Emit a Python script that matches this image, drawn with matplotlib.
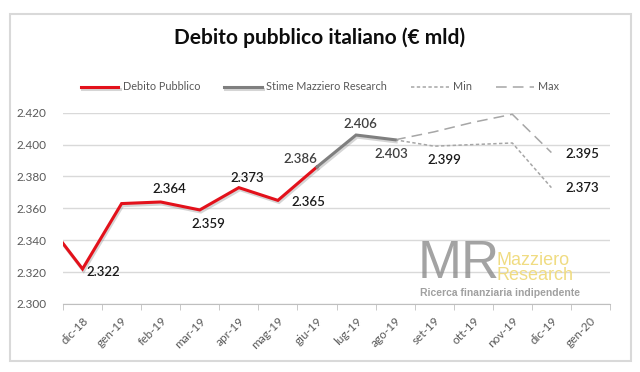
import matplotlib
matplotlib.use("Agg")
import matplotlib.pyplot as plt
import matplotlib.patheffects as pe
from matplotlib.patches import Rectangle

plt.rcParams['font.family'] = ['Lato', 'DejaVu Sans']

# categories (nov-18 is only partly visible at the left edge)
mesi = ['nov-18', 'dic-18', 'gen-19', 'feb-19', 'mar-19', 'apr-19', 'mag-19', 'giu-19',
        'lug-19', 'ago-19', 'set-19', 'ott-19', 'nov-19', 'dic-19', 'gen-20']
x = list(range(-1, len(mesi) - 1))

# Debito Pubblico (nov-18 .. giu-19)
debito = [2.354, 2.322, 2.363, 2.364, 2.359, 2.373, 2.365, 2.386]
# Stime Mazziero Research (giu-19 .. ago-19)
stime = [2.386, 2.406, 2.403]
# Min / Max (ago-19 .. dic-19)
minimo = [2.403, 2.399, 2.400, 2.401, 2.373]
massimo = [2.403, 2.408, 2.414, 2.419, 2.395]

yticks = [2.300, 2.320, 2.340, 2.360, 2.380, 2.400, 2.420]

red = '#e3111b'
dark_gray = '#7f7f7f'
light_gray = '#a6a6a6'
text_gray = '#595959'

fig = plt.figure(figsize=(6.4, 3.72), dpi=100)
ax = fig.add_axes([63 / 640, 1 - 304 / 372, (610 - 63) / 640, (304 - 112.7) / 372])

shadow = [pe.SimpleLineShadow(offset=(0.8, -1.5), shadow_color='#888888', alpha=0.35), pe.Normal()]

ax.plot(x[:len(debito)], debito, color=red, lw=2.2, solid_joinstyle='miter',
        path_effects=shadow, label='Debito Pubblico', zorder=4)
ax.plot(x[7:7 + len(stime)], stime, color=dark_gray, lw=2.2, solid_joinstyle='miter',
        path_effects=shadow, label='Stime Mazziero Research', zorder=4)
ax.plot(x[9:9 + len(minimo)], minimo, color=light_gray, lw=1.1, ls=(0, (2.2, 1.6)),
        label='Min', zorder=3)
ax.plot(x[9:9 + len(massimo)], massimo, color=light_gray, lw=1.1, ls=(0, (7, 4)),
        label='Max', zorder=3)

ax.set_xlim(-0.5, len(mesi) - 1.5)
ax.set_ylim(2.300, 2.420)
ax.set_yticks(yticks)
ax.set_yticklabels([f'{v:.3f}' for v in yticks])
ax.yaxis.grid(True, color='#d9d9d9', lw=1)
ax.set_axisbelow(True)
for s in ['top', 'right', 'left']:
    ax.spines[s].set_visible(False)
ax.spines['bottom'].set_color('#bfbfbf')
ax.tick_params(axis='y', length=0, pad=12, labelsize=8.5, labelcolor=text_gray)

# category labels at centres, tick marks between categories
ax.set_xticks(x[1:])
ax.set_xticklabels(mesi[1:], rotation=45, ha='right', rotation_mode='anchor',
                   fontsize=8.5, color=text_gray)
ax.tick_params(axis='x', which='major', length=0, pad=8)
ax.set_xticks([v - 0.5 for v in x[1:]] + [x[-1] + 0.5], minor=True)
ax.tick_params(axis='x', which='minor', length=4, color='#bfbfbf', direction='out')

# data labels
def lab(i, v, dx, dy, col='#1a1a1a', ha='center'):
    ax.annotate(f'{v:.3f}', (i, v), xytext=(dx, dy), textcoords='offset points',
                ha=ha, va='center', fontsize=9.5, color=col, fontweight='semibold')

lab(0, 2.322, 3, -2, ha='left')
lab(2, 2.364, 6, 9)
lab(3, 2.359, 6, -10)
lab(4, 2.373, 6, 7)
lab(5, 2.365, 22, -1)
lab(6, 2.386, -12, 6, col='#404040')
lab(7, 2.406, 3, 8, col='#404040')
lab(8, 2.403, -3, -10, col='#404040')
lab(9, 2.399, 7, -10)
lab(12, 2.395, 10, -1, ha='left')
lab(12, 2.373, 10, 0, ha='left')

# title and legend
fig.text(0.5, 1 - 38 / 372, 'Debito pubblico italiano (€ mld)', ha='center', va='center',
         fontsize=15, fontweight='bold', color='#0d0d0d')
fig.legend(loc='center', bbox_to_anchor=(0.5, 1 - 87 / 372), ncol=4, frameon=False,
           fontsize=7.8, labelcolor=text_gray, handlelength=3.5, columnspacing=2.2,
           handletextpad=0.4)

# watermark
fig.text(418 / 640, 1 - 264 / 372, 'MR', fontsize=38, color='#8c8c8c', alpha=0.8,
         family='Liberation Sans', ha='left', va='center')
fig.text(497 / 640, 1 - 268 / 372, 'Mazziero\nResearch', fontsize=13, color='#f0dc82',
         family='Liberation Sans', ha='left', va='center', linespacing=0.85)
fig.text(420 / 640, 1 - 293 / 372, 'Ricerca finanziaria indipendente', fontsize=7.5,
         color='#a0a0a0', family='Liberation Sans', fontweight='bold', ha='left', va='center')

# outer frame
fig.patches.append(Rectangle((10 / 640, 1 - 361 / 372), 621 / 640, 347 / 372,
                             transform=fig.transFigure, fill=False, ec='#d9d9d9', lw=1.5))

fig.savefig('out.png', dpi=100)
